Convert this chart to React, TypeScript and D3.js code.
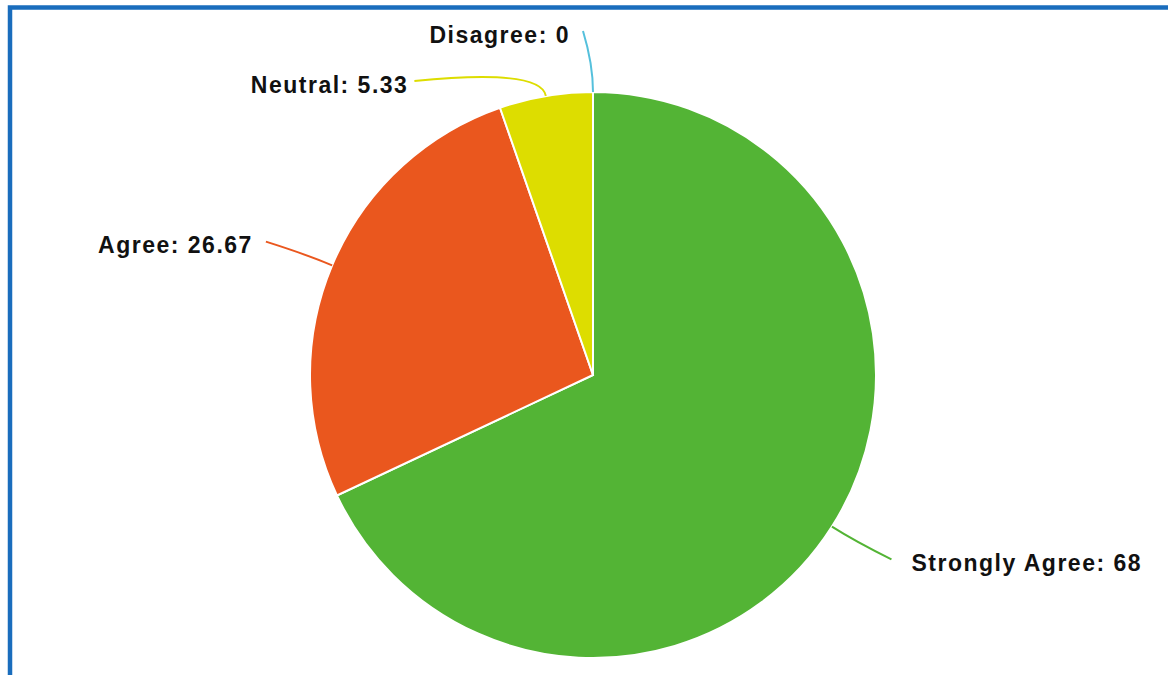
import React from "react";
import * as d3 from "d3";

const categories = ["Strongly Agree", "Agree", "Neutral", "Disagree"];
const values = [68, 26.67, 5.33, 0];
const colors = ["#53b435", "#ea571e", "#dddd00", "#55c0dc"];

const W = 1168;
const H = 675;
const cx = 593;
const cy = 375;
const radius = 283;
const labelRadius = radius + 61;
const minGap = 50;

type Lab = {
  name: string;
  value: number;
  color: string;
  start: { x: number; y: number };
  ctrl: { x: number; y: number };
  x: number;
  y: number;
  left: boolean;
  moved: boolean;
};

export default function App() {
  const pie = d3
    .pie<number>()
    .sort(null)
    .value((d) => d);
  const arcs = pie(values);
  const arc = d3.arc<d3.PieArcDatum<number>>().innerRadius(0).outerRadius(radius);

  const labels: Lab[] = arcs.map((a, i) => {
    const mid = (a.startAngle + a.endAngle) / 2;
    const s = Math.sin(mid);
    const c = -Math.cos(mid);
    return {
      name: categories[i],
      value: values[i],
      color: colors[i],
      start: { x: cx + s * radius, y: cy + c * radius },
      ctrl: { x: cx + s * (radius + 28), y: cy + c * (radius + 28) },
      x: cx + s * labelRadius,
      y: cy + c * labelRadius,
      left: mid >= Math.PI - 1e-6,
      moved: false,
    };
  });

  // push overlapping labels apart (per side, top to bottom)
  [true, false].forEach((side) => {
    const group = labels.filter((l) => l.left === side).sort((a, b) => a.y - b.y);
    for (let i = 1; i < group.length; i++) {
      const prev = group[i - 1];
      const cur = group[i];
      if (cur.y - prev.y < minGap) {
        cur.y = prev.y + minGap;
        const dy = cur.y - cy;
        const dx = Math.sqrt(Math.max(0, labelRadius * labelRadius - dy * dy));
        cur.x = side ? cx - dx : cx + dx;
        cur.moved = true;
      }
    }
  });

  // small horizontal tail on ticks that were not moved
  labels.forEach((l) => {
    if (!l.moved) l.x += l.left ? -10 : 8;
  });

  return (
    <svg
      width={W}
      height={H}
      style={{ position: "absolute", left: 0, top: 0, background: "#fff" }}
    >
      <rect
        x={10}
        y={7.5}
        width={W + 20}
        height={H + 20}
        fill="#fff"
        stroke="#1a6dbd"
        strokeWidth={4.5}
      />
      <g transform={`translate(${cx},${cy})`}>
        {arcs.map((a, i) => (
          <path key={i} d={arc(a) ?? ""} fill={colors[i]} stroke="#fff" strokeWidth={2} />
        ))}
      </g>
      {labels.map((l, i) => {
        const path = d3.path();
        path.moveTo(l.start.x, l.start.y);
        path.quadraticCurveTo(l.ctrl.x, l.ctrl.y, l.x, l.y);
        const gap = l.moved ? 6 : l.left ? 13 : 20;
        return (
          <g key={i}>
            <path d={path.toString()} fill="none" stroke={l.color} strokeWidth={2} />
            <text
              x={l.left ? l.x - gap : l.x + gap}
              y={l.y}
              dy="0.5em"
              textAnchor={l.left ? "end" : "start"}
              fontFamily="'Liberation Sans', Arial, sans-serif"
              fontWeight="bold"
              fontSize={23}
              letterSpacing={1.5}
              fill="#111"
            >
              {`${l.name}: ${l.value}`}
            </text>
          </g>
        );
      })}
    </svg>
  );
}
